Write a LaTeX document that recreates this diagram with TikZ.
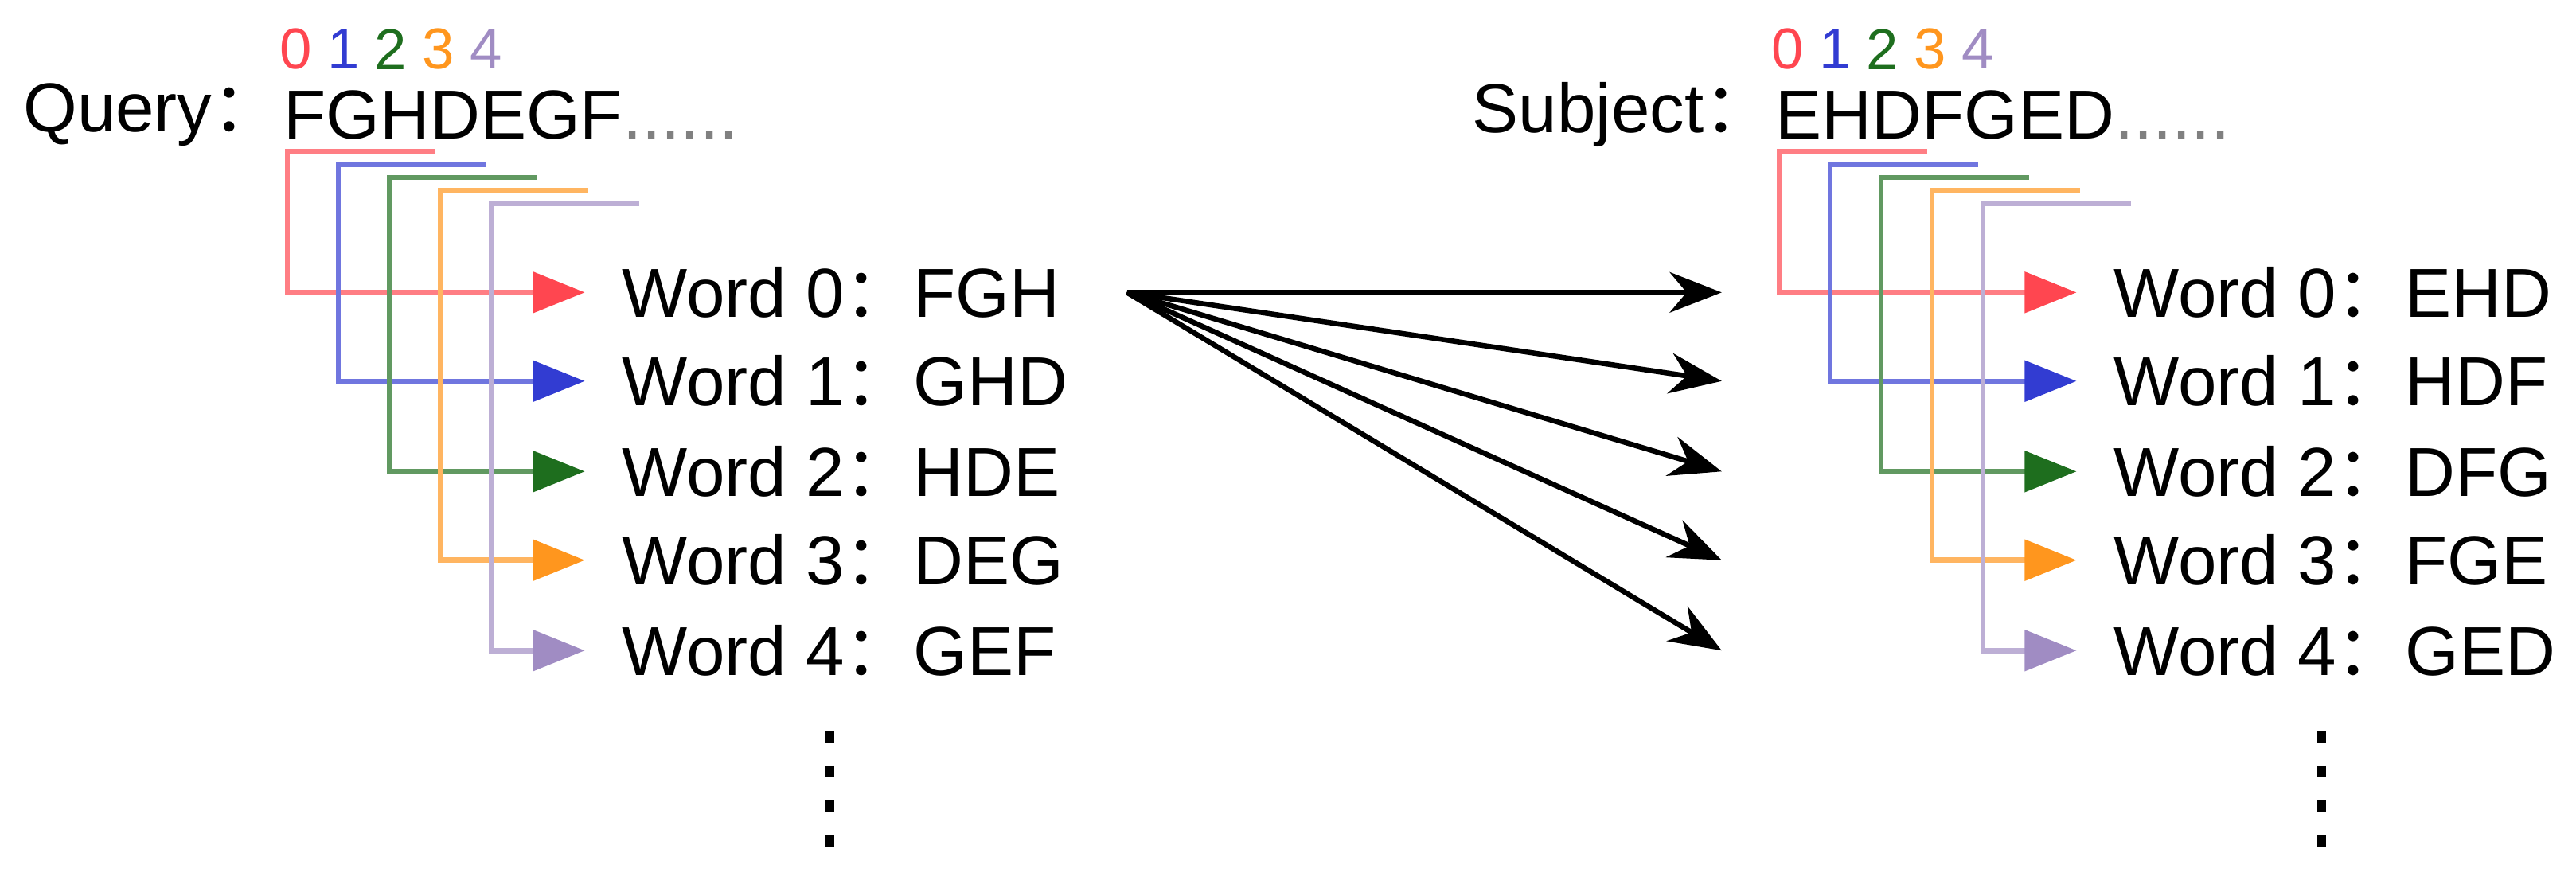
\documentclass[tikz,border=0pt]{standalone}
\usepackage{fontspec}
\setmainfont{Liberation Sans}
\newfontfamily\cjkfont{Noto Sans CJK SC}
\usetikzlibrary{arrows.meta}
\usetikzlibrary{positioning}
\definecolor{cred}{RGB}{255,70,80}
\definecolor{cblue}{RGB}{50,60,210}
\definecolor{cgreen}{RGB}{30,110,30}
\definecolor{corange}{RGB}{255,150,30}
\definecolor{cpurple}{RGB}{160,140,195}
\newcommand{\fcolon}{{\cjkfont ：}}
\tikzset{
  txt/.style={inner sep=0pt, font=\fontsize{12}{14}\selectfont},
  idx/.style={inner sep=0pt, font=\fontsize{10}{12}\selectfont},
  brk/.style={line width=0.9pt, draw=#1!70, -{Triangle[width=7pt,length=9pt,color=#1]}},
  link/.style={line width=0.9pt, -{Stealth[width=7pt,length=9pt]}},
  vdots/.style={line width=1.5pt, dash pattern=on 2pt off 4pt}
}
\begin{document}
\begin{tikzpicture}[x=0.01cm,y=-0.01cm]
    \useasboundingbox (0,0) rectangle (1568,534);
    \def\dx{908} % decalage du bloc Subject

    % Sequences
    \node[txt, anchor=east] (qlab) at (172,70) {Query\fcolon};
    \node[txt, anchor=west] (qseq) at (172,70) {FGHDEGF\textcolor{gray}{......}};
    \node[txt, anchor=east] (slab) at (1080,70) {Subject\fcolon};
    \node[txt, anchor=west] (sseq) at (1080,70) {EHDFGED\textcolor{gray}{......}};

    % Indices et mots
    \foreach \i/\c/\w/\v/\y in {0/cred/FGH/EHD/178, 1/cblue/GHD/HDF/232, 2/cgreen/HDE/DFG/287, 3/corange/DEG/FGE/341, 4/cpurple/GEF/GED/396} {
        \node[idx, text=\c] (qi\i) at (180+\i*29,30) {\i};
        \node[idx, text=\c] (si\i) at (180+\dx+\i*29,30) {\i};
        \node[txt, anchor=west] (qw\i) at (378,\y) {Word \i\fcolon\w};
        \node[txt, anchor=west] (sw\i) at (378+\dx,\y) {Word \i\fcolon\v};
        \draw[brk=\c] (175+\i*31+90,92+\i*8) -- (175+\i*31,92+\i*8) |- ([xshift=-0.22cm]qw\i.west);
        \draw[brk=\c] (175+\dx+\i*31+90,92+\i*8) -- (175+\dx+\i*31,92+\i*8) |- ([xshift=-0.22cm]sw\i.west);
        \coordinate (t\i) at (1048,\y);
        \draw[link] ([xshift=0.4cm]qw0.east) -- (t\i);
    }

    % Points de suspension
    \draw[vdots] (505,445) -- (505,522);
    \draw[vdots] (505+\dx,445) -- (505+\dx,522);
\end{tikzpicture}
\end{document}
